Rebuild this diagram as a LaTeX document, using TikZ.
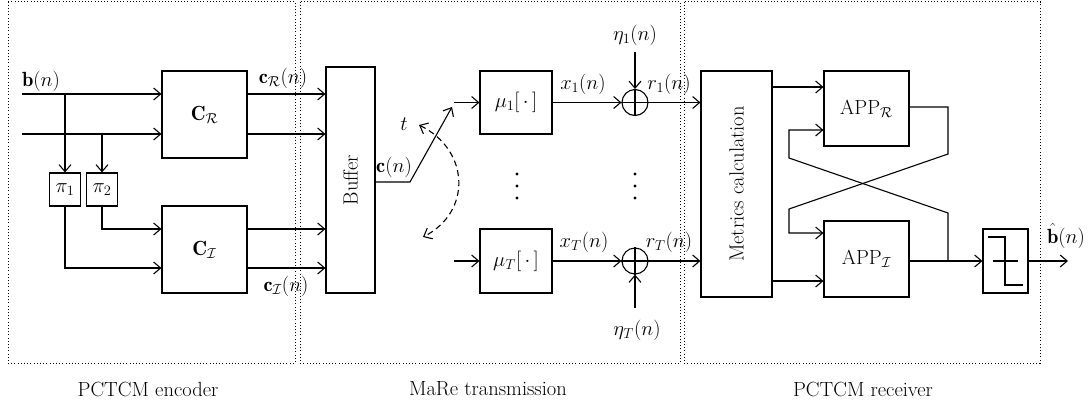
\RequirePackage{fix-cm}
\documentclass[tikz,border=0pt]{standalone}
\usepackage{amsmath}
\usepackage{fontspec}
\usetikzlibrary{arrows.meta,calc}
\begin{document}
\begin{tikzpicture}[x=1pt,y=-1pt,
  every node/.style={font=\fontsize{20.5}{24}\selectfont},
  ln/.style={line width=1.1pt},
  arr/.style={line width=1.1pt,-{Straight Barb[length=7pt,width=12pt,line width=1.1pt]}},
  darr/.style={line width=1.1pt,dashed,dash pattern=on 6pt off 4pt,{Straight Barb[length=7pt,width=12pt,line width=1.1pt,sep=0pt]}-{Straight Barb[length=7pt,width=12pt,line width=1.1pt]}},
  blk/.style={draw,line width=1.1pt,inner sep=0pt},
  frame/.style={line width=0.9pt,dash pattern=on 0.9pt off 2.3pt},
  lbl/.style={inner sep=1pt},
  dot/.style={fill,circle,inner sep=0pt,minimum size=3.2pt}]
\useasboundingbox (0,0) rectangle (1090,408);

% frames
\draw[frame] (8,1.5) rectangle (295,363);
\draw[frame] (300,1.5) rectangle (680,363);
\draw[frame] (684,1.5) rectangle (1040,363);
\node[lbl] (capenc) at (148,389) {PCTCM encoder};
\node[lbl] (capmare) at (488,389) {MaRe transmission};
\node[lbl] (caprec) at (863,389) {PCTCM receiver};

% encoder blocks
\node[blk,minimum width=85pt,minimum height=87pt] (CR) at (204.5,114.5) {$\mathbf{C}_{\mathcal{R}}$};
\node[blk,minimum width=85pt,minimum height=87pt] (CL) at (204.5,249.5) {$\mathbf{C}_{\mathcal{I}}$};
\node[blk,minimum width=31pt,minimum height=33pt] (pi1) at (65,189.5) {$\pi_1$};
\node[blk,minimum width=31pt,minimum height=33pt] (pi2) at (102,189.5) {$\pi_2$};
\node[blk,minimum width=49pt,minimum height=226pt] (buf) at (350.5,180) {};
\node[rotate=90] (buftxt) at (buf.center) {Buffer};

\coordinate (in1) at (22,94);
\coordinate (in2) at (22,134);
\coordinate (lo1) at (0,229);
\coordinate (lo2) at (0,268);
\node[lbl] (blab) at (41,81) {$\mathbf{b}(n)$};

\draw[arr] (in1) -- (in1 -| CR.west);
\draw[arr] (in2) -- (in2 -| CR.west);
\draw[arr] (pi1.north |- in1) -- (pi1.north);
\draw[arr] (pi2.north |- in2) -- (pi2.north);
\draw[arr] (pi2.south) -- (pi2.south |- lo1) -- (lo1 -| CL.west);
\draw[arr] (pi1.south) -- (pi1.south |- lo2) -- (lo2 -| CL.west);

\draw[arr] (CR.east |- in1) -- (buf.west |- in1);
\draw[arr] (CR.east |- in2) -- (buf.west |- in2);
\draw[arr] (CL.east |- lo1) -- (buf.west |- lo1);
\draw[arr] (CL.east |- lo2) -- (buf.west |- lo2);
\node[lbl] (crlab) at (283,78) {$\mathbf{c}_{\mathcal{R}}(n)$};
\node[lbl] (cllab) at (286,286) {$\mathbf{c}_{\mathcal{I}}(n)$};

% MaRe
\coordinate (sw0) at (410,182);
\coordinate (sw1) at (452,107);
\draw[arr] (buf.east |- sw0) -- (sw0) -- (sw1);
\node[lbl] (clab) at (394,167) {$\mathbf{c}(n)$};
\node[lbl] (tlab) at (404,124) {$t$};
\coordinate (da) at (419,125);
\coordinate (db) at (423,237);
\draw[darr] (da) .. controls (470,150) and (472,212) .. (db);

\node[blk,minimum width=72pt,minimum height=63pt] (mu1) at (516,102.5) {$\mu_1[\,\cdot\,]$};
\node[blk,minimum width=72pt,minimum height=64pt] (muT) at (516,261) {$\mu_T[\,\cdot\,]$};
\coordinate (m1in) at (454,102.5);
\coordinate (mTin) at (454,261);
\draw[arr] (m1in) -- (mu1.west);
\draw[arr] (mTin) -- (muT.west);
\foreach \yy [count=\i] in {174,186,198} {
  \node[dot] (va\i) at (517,\yy) {};
  \node[dot] (vb\i) at (635,\yy) {};
}

\node[draw,circle,line width=1.1pt,minimum size=26pt,inner sep=0pt] (s1) at (635,102.5) {};
\node[draw,circle,line width=1.1pt,minimum size=26pt,inner sep=0pt] (sT) at (635,261) {};
\draw[ln] (s1.north) -- (s1.south) (s1.west) -- (s1.east);
\draw[ln] (sT.north) -- (sT.south) (sT.west) -- (sT.east);
\draw[arr] (mu1.east) -- (s1.west);
\draw[arr] (muT.east) -- (sT.west);
\node[lbl] (x1lab) at (583,84) {$x_1(n)$};
\node[lbl] (xTlab) at (584,242) {$x_T(n)$};
\node[lbl] (e1lab) at (635,35) {$\eta_1(n)$};
\node[lbl] (eTlab) at (637,330) {$\eta_T(n)$};
\coordinate (e1) at (635,52);
\coordinate (eT) at (635,308);
\draw[arr] (e1) -- (s1.north);
\draw[arr] (eT) -- (sT.south);
\node[lbl] (r1lab) at (669,84) {$r_1(n)$};
\node[lbl] (rTlab) at (669,242) {$r_T(n)$};

% receiver
\node[blk,minimum width=71pt,minimum height=226pt] (met) at (736.5,184) {};
\node[rotate=90] (mettxt) at (met.center) {Metrics calculation};
\draw[arr] (s1.east) -- (s1.east -| met.west);
\draw[arr] (sT.east) -- (sT.east -| met.west);

\node[blk,minimum width=85pt,minimum height=75pt] (appR) at (866.5,108.5) {APP$_{\mathcal{R}}$};
\node[blk,minimum width=85pt,minimum height=76pt] (appL) at (866.5,259) {APP$_{\mathcal{I}}$};
\coordinate (mo1) at (0,87);
\coordinate (mo2) at (0,281);
\draw[arr] (met.east |- mo1) -- (appR.west |- mo1);
\draw[arr] (met.east |- mo2) -- (appL.west |- mo2);

\node[blk,minimum width=45pt,minimum height=64pt] (dec) at (1005.5,261) {};
\draw[ln] (988,237) -- (1005,237) -- (1005,285) -- (1023,285);
\draw[ln] (993,261) -- (1018,261);

\coordinate (jn) at (948,261);
\draw[arr] (appR.east |- 0,107) -- (948,107) -- (948,154) -- (789,209) -- (789,233) -- (appL.west |- 0,233);
\draw[ln] (appL.east |- jn) -- (jn);
\draw[arr] (jn) -- (dec.west |- jn);
\draw[arr] (jn) -- (948,213) -- (789,158) -- (789,130) -- (appR.west |- 0,130);
\coordinate (bout) at (1068,261);
\draw[arr] (dec.east |- jn) -- (bout);
\node[lbl] (bhat) at (1066,236) {$\hat{\mathbf{b}}(n)$};
\end{tikzpicture}
\end{document}
